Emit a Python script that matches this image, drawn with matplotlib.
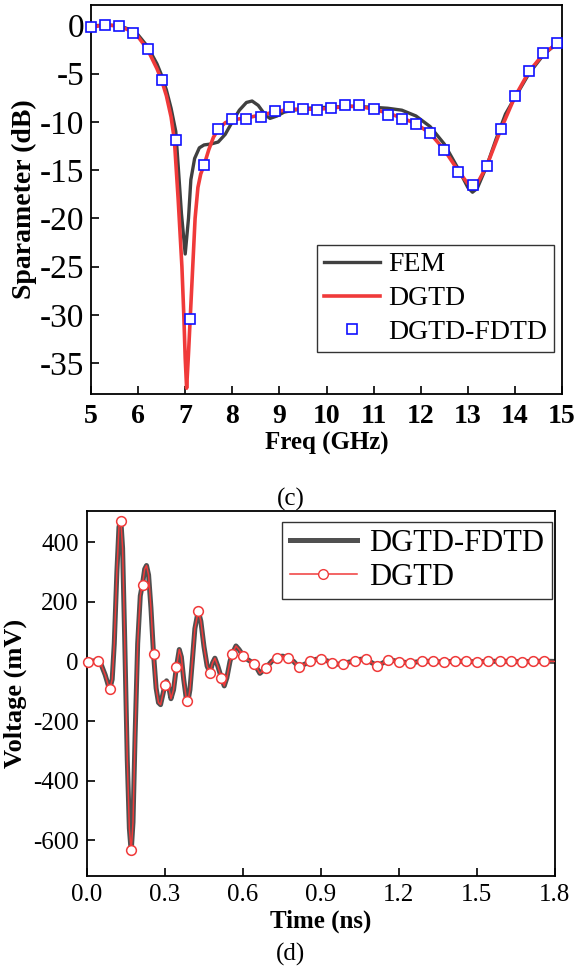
import matplotlib
matplotlib.use('Agg')
import matplotlib.pyplot as plt
from matplotlib.lines import Line2D

plt.rcParams['font.family'] = ['Liberation Serif', 'DejaVu Serif']
plt.rcParams['axes.unicode_minus'] = False
plt.rcParams['mathtext.fontset'] = 'stix'

# ---- (c) S-parameter vs frequency ----
fem_freq = [5.0, 5.2, 5.4, 5.6, 5.8, 6.0, 6.2, 6.4, 6.5, 6.6,
            6.7, 6.8, 6.85, 6.92, 7.0, 7.07, 7.12, 7.2, 7.3, 7.4,
            7.55, 7.7, 7.85, 8.0, 8.15, 8.3, 8.42, 8.55, 8.7, 8.8,
            8.95, 9.1, 9.3, 9.6, 10.0, 10.5, 11.0, 11.3, 11.6, 11.9,
            12.2, 12.5, 12.8, 13.0, 13.1, 13.2, 13.4, 13.6, 13.8, 14.0,
            14.3, 14.6, 15.0]
fem_db = [-0.1, 0.0, 0.0, -0.05, -0.4, -1.0, -2.2, -4.0, -5.2, -6.7,
          -8.6, -11.0, -14.5, -19.5, -23.7, -20.0, -16.0, -13.8, -12.7, -12.4,
          -12.3, -12.1, -11.3, -10.0, -8.8, -8.0, -7.85, -8.3, -9.3, -9.65,
          -9.4, -9.0, -8.8, -8.6, -8.5, -8.4, -8.5, -8.6, -8.8, -9.4,
          -10.5, -12.3, -14.9, -16.8, -17.3, -16.9, -14.6, -11.8, -9.2, -7.5,
          -5.0, -3.1, -1.4]

dgtd_freq = [5.0, 5.2, 5.4, 5.6, 5.8, 6.0, 6.2, 6.4, 6.5, 6.6,
             6.7, 6.77, 6.85, 6.93, 6.97, 7.0, 7.03, 7.07, 7.11, 7.16,
             7.21, 7.27, 7.33, 7.4, 7.5, 7.6, 7.7, 7.85, 8.0, 8.3,
             8.6, 8.9, 9.2, 9.5, 9.8, 10.1, 10.4, 10.7, 11.0, 11.3,
             11.6, 11.9, 12.2, 12.5, 12.8, 13.0, 13.1, 13.2, 13.4, 13.7,
             14.0, 14.3, 14.6, 15.0]
dgtd_db = [-0.2, -0.05, 0.0, -0.1, -0.5, -1.2, -2.5, -4.5, -5.7, -7.3,
           -9.5, -11.9, -18.0, -25.0, -30.0, -34.5, -37.6, -34.0, -30.0, -25.0,
           -20.0, -16.8, -15.4, -14.5, -12.9, -11.6, -10.8, -10.1, -9.8, -9.6,
           -9.3, -9.0, -8.7, -8.7, -8.7, -8.6, -8.4, -8.4, -8.7, -9.1,
           -9.6, -10.2, -11.2, -12.9, -15.1, -16.4, -16.7, -16.4, -14.6, -10.8,
           -7.4, -4.8, -3.0, -1.5]

hyb_freq = [5.0, 5.3, 5.6, 5.9, 6.2, 6.5, 6.8, 7.1, 7.4, 7.7,
            8.0, 8.3, 8.6, 8.9, 9.2, 9.5, 9.8, 10.1, 10.4, 10.7,
            11.0, 11.3, 11.6, 11.9, 12.2, 12.5, 12.8, 13.1, 13.4, 13.7,
            14.0, 14.3, 14.6, 14.9]
hyb_db = [-0.2, 0.0, -0.05, -0.8, -2.5, -5.7, -11.9, -30.4, -14.5, -10.7,
          -9.7, -9.7, -9.5, -8.9, -8.5, -8.7, -8.8, -8.6, -8.3, -8.3,
          -8.7, -9.3, -9.7, -10.2, -11.2, -12.9, -15.2, -16.6, -14.6, -10.7,
          -7.3, -4.7, -2.9, -1.8]

freq_ticks = [5, 6, 7, 8, 9, 10, 11, 12, 13, 14, 15]
db_ticks = [0, -5, -10, -15, -20, -25, -30, -35]

# ---- (d) voltage vs time ----
wave_t = [0.0, 0.03, 0.05, 0.07, 0.087, 0.097, 0.105, 0.115, 0.123, 0.13,
          0.137, 0.145, 0.155, 0.163, 0.17, 0.177, 0.185, 0.195, 0.205, 0.214,
          0.222, 0.229, 0.237, 0.246, 0.256, 0.266, 0.275, 0.283, 0.292, 0.301,
          0.306, 0.313, 0.323, 0.333, 0.344, 0.355, 0.363, 0.372, 0.382, 0.388,
          0.396, 0.405, 0.415, 0.428, 0.438, 0.45, 0.462, 0.473, 0.483, 0.492,
          0.503, 0.517, 0.528, 0.538, 0.55, 0.559, 0.573, 0.585, 0.601, 0.62,
          0.644, 0.665, 0.688, 0.71, 0.731, 0.752, 0.773, 0.795, 0.815, 0.84,
          0.86, 0.88, 0.901, 0.92, 0.944, 0.965, 0.986, 1.008, 1.03, 1.05,
          1.073, 1.095, 1.116, 1.138, 1.158, 1.18, 1.201, 1.244, 1.287, 1.329,
          1.372, 1.415, 1.458, 1.501, 1.544, 1.587, 1.629, 1.672, 1.715, 1.758,
          1.8]
wave_mv = [0, 2, 0, -45, -95, -60, 60, 300, 450, 478,
           380, 80, -330, -560, -638, -540, -250, 60, 220, 262,
           310, 322, 290, 180, 25, -90, -138, -145, -110, -75,
           -65, -80, -125, -95, -19, 40, 15, -60, -125, -135,
           -95, 0, 110, 170, 135, 50, -15, -38, -5, 11,
           -15, -55, -82, -55, 0, 26, 52, 40, 19, 5,
           -8, -40, -22, 0, 13, 18, 12, 0, -19, -8,
           0, 7, 9, 3, -4, -9, -8, -2, 1, 7,
           9, -4, -15, -5, 6, 3, -1, -5, 1, 0,
           -2, 1, 0, -1, 0, 1, 0, -1, 0, 1,
           0]

mark_t = [0.005, 0.043, 0.087, 0.130, 0.170, 0.214, 0.256, 0.301, 0.344, 0.386,
          0.428, 0.473, 0.517, 0.559, 0.601, 0.644, 0.688, 0.731, 0.773, 0.815,
          0.858, 0.901, 0.944, 0.986, 1.030, 1.073, 1.116, 1.158, 1.201, 1.244,
          1.287, 1.329, 1.372, 1.415, 1.458, 1.501, 1.544, 1.587, 1.629, 1.672,
          1.715, 1.758]
mark_mv = [-2, 2, -92, 472, -632, 258, 25, -79, -19, -132,
           170, -38, -55, 26, 19, -8, -22, 13, 12, -19,
           0, 9, -4, -8, 1, 9, -15, 6, -1, -5,
           1, 0, -2, 1, 0, -1, 0, 1, 0, -1,
           0, 1]

time_ticks = [0.0, 0.3, 0.6, 0.9, 1.2, 1.5, 1.8]
mv_ticks = [400, 200, 0, -200, -400, -600]

RED = '#f03a3a'
GRAY = '#404040'

fig = plt.figure(figsize=(5.76, 9.74), dpi=100)

# top panel
ax1 = fig.add_axes([0.158, 0.5955, 0.8177, 0.3994])
ax1.plot(fem_freq, fem_db, color=GRAY, lw=2.4, label='FEM', zorder=2)
ax1.plot(dgtd_freq, dgtd_db, color=RED, lw=2.6, label='DGTD', zorder=3)
ax1.plot(hyb_freq, hyb_db, ls='none', marker='s', ms=7.8, mfc='white',
         mec='#1010ff', mew=1.2, label='DGTD-FDTD', zorder=4, clip_on=False)
ax1.set_xlim(5, 15)
ax1.set_ylim(-38.2, 2.1)
ax1.set_xticks(freq_ticks)
ax1.set_yticks(db_ticks)
ax1.tick_params(axis='x', direction='in', length=6, width=1.2, labelsize=20, pad=7)
ax1.tick_params(axis='y', direction='in', length=6, width=1.2, labelsize=24, pad=5)
for lab in ax1.get_xticklabels():
    lab.set_fontweight('bold')
ax1.set_xlabel('Freq (GHz)', fontsize=18, fontweight='bold', labelpad=2)
ax1.set_ylabel('Sparameter (dB)', fontsize=20, fontweight='bold', labelpad=2)
for sp in ax1.spines.values():
    sp.set_linewidth(1.3)
leg1 = ax1.legend(loc='lower right', bbox_to_anchor=(0.983, 0.108), borderaxespad=0,
                  fontsize=20, frameon=True, fancybox=False, edgecolor='black',
                  handlelength=2.0, handletextpad=0.3, borderpad=0.25, labelspacing=0.3)
leg1.get_frame().set_linewidth(1.0)

# bottom panel
ax2 = fig.add_axes([0.151, 0.1006, 0.8125, 0.3748])
ax2.plot(wave_t, wave_mv, color='#505050', lw=3.6, zorder=2)
ax2.plot(wave_t, wave_mv, color=RED, lw=1.1, zorder=3)
ax2.plot(mark_t, mark_mv, ls='none', marker='o', ms=7, mfc='white',
         mec=RED, mew=1.1, zorder=4, clip_on=False)
ax2.set_xlim(0, 1.8)
ax2.set_ylim(-720, 505)
ax2.set_xticks(time_ticks)
ax2.set_xticklabels(['%.1f' % t for t in time_ticks])
ax2.set_yticks(mv_ticks)
ax2.tick_params(direction='in', length=6, width=1.2, labelsize=18, pad=6)
ax2.set_xlabel('Time (ns)', fontsize=18, fontweight='bold', labelpad=2)
ax2.set_ylabel('Voltage (mV)', fontsize=19, fontweight='bold', labelpad=4)
for sp in ax2.spines.values():
    sp.set_linewidth(1.3)
handles = [Line2D([], [], color='#505050', lw=3.6),
           Line2D([], [], color=RED, lw=1.1, marker='o', ms=7, mfc='white', mec=RED)]
leg2 = ax2.legend(handles, ['DGTD-FDTD', 'DGTD'], loc='upper right',
                  bbox_to_anchor=(0.993, 0.971), borderaxespad=0, fontsize=22,
                  frameon=True, fancybox=False, edgecolor='black',
                  handlelength=2.2, handletextpad=0.4, borderpad=0.25, labelspacing=0.15)
leg2.get_frame().set_linewidth(1.0)

fig.text(0.505, 0.487, '(c)', fontsize=18, ha='center', va='center')
fig.text(0.505, 0.02, '(d)', fontsize=18, ha='center', va='center')

fig.savefig('out.png', dpi=100)
